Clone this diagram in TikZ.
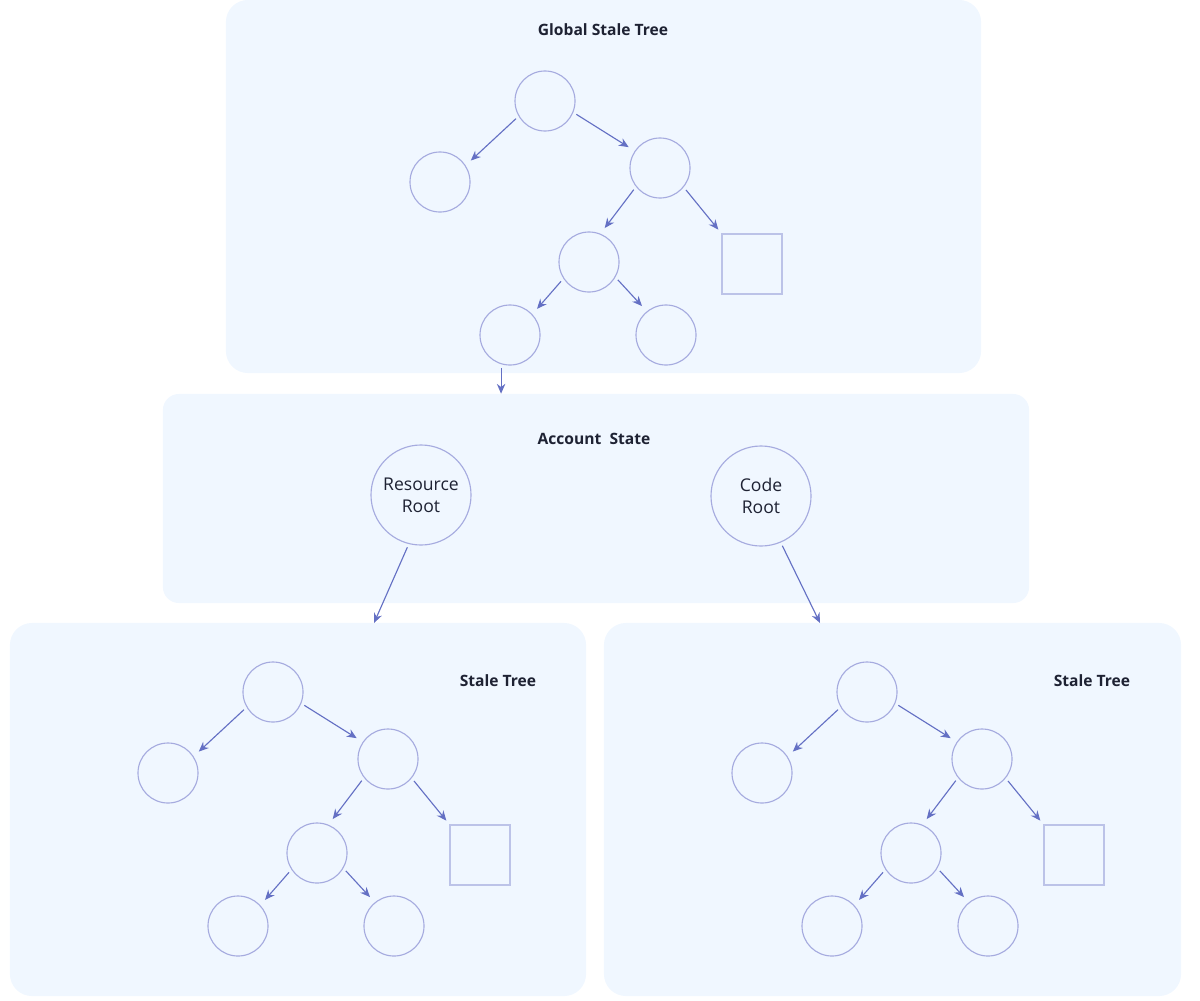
\documentclass[tikz,border=0pt]{standalone}
\usepackage{fontspec}
\setmainfont{Open Sans}
\usetikzlibrary{arrows.meta, positioning}
\definecolor{panelbg}{HTML}{F0F7FF}
\definecolor{nodeline}{HTML}{A6ABDF}
\definecolor{leafline}{HTML}{BCC3E8}
\definecolor{arrowcol}{HTML}{6470C4}
\definecolor{textcol}{HTML}{1E2233}

\begin{document}
\begin{tikzpicture}[
    x=0.025cm, y=-0.025cm,
    panel/.style={rectangle, rounded corners=0.55cm, fill=panelbg, draw=none, inner sep=0pt},
    title/.style={font=\bfseries\fontsize{11.1}{13}\selectfont, text=textcol},
    treenode/.style={circle, draw=nodeline, line width=0.8pt, minimum size=1.5cm, inner sep=0pt},
    rootnode/.style={circle, draw=nodeline, line width=0.8pt, minimum size=2.5cm, inner sep=0pt, align=center, font=\fontsize{12.5}{15.5}\selectfont, text=textcol},
    leaf/.style={rectangle, draw=leafline, line width=0.8pt, minimum size=1.5cm, inner sep=0pt},
    arrow/.style={line width=0.8pt, draw=arrowcol, -{Stealth[length=7pt, width=6pt]}, shorten <=2.5pt, shorten >=5pt}
]
    \useasboundingbox (0,0) rectangle (1200,1000);

    % Panels
    \node[panel, minimum width=18.875cm, minimum height=9.325cm] (global) at (603.5,186.5) {};
    \node[panel, rounded corners=0.4cm, minimum width=21.65cm, minimum height=5.225cm] (account) at (596,498.5) {};
    \node[panel, minimum width=14.4cm, minimum height=9.325cm] (respanel) at (298,809.5) {};
    \node[panel, minimum width=14.425cm, minimum height=9.325cm] (codepanel) at (892.5,809.5) {};

    % Titles
    \node[title] (globaltitle) at (603,30) {Global Stale Tree};
    \node[title] (accounttitle) at (594,439) {Account\ \ State};
    \node[title] (restitle) at (498,681) {Stale Tree};
    \node[title] (codetitle) at (1092,681) {Stale Tree};

    % Three trees of the same shape
    \foreach \x/\y/\t in {545/101/g, 273/692/r, 867/692/c}
    {
        \node[treenode] (\t-root) at (\x,\y) {};
        \node[treenode] (\t-l) at ({\x-105},{\y+81}) {};
        \node[treenode] (\t-r) at ({\x+115},{\y+67}) {};
        \node[treenode] (\t-rl) at ({\x+44},{\y+161}) {};
        \node[leaf] (\t-sq) at ({\x+207},{\y+163}) {};
        \node[treenode] (\t-rll) at ({\x-35},{\y+234}) {};
        \node[treenode] (\t-rlr) at ({\x+121},{\y+234}) {};

        \draw[arrow] (\t-root.210) -- (\t-l.33);
        \draw[arrow] (\t-root.338) -- (\t-r.146);
        \draw[arrow] (\t-r.218) -- (\t-rl.68);
        \draw[arrow, shorten >=3.5pt] (\t-r.321) -- (\t-sq.north west);
        \draw[arrow] (\t-rl.213) -- (\t-rll.43);
        \draw[arrow] (\t-rl.330) -- (\t-rlr.129);
    }

    % Account roots
    \node[rootnode] (resroot) at (421,495) {Resource\\Root};
    \node[rootnode] (coderoot) at (761,496) {Code\\Root};
    \coordinate (resin) at (374,623);
    \coordinate (codein) at (820,623);

    \draw[arrow, shorten >=0pt] (g-rll.253) -- (g-rll.253 |- account.north);
    \draw[arrow, shorten >=0pt] (resroot.256) -- (resin);
    \draw[arrow, shorten >=0pt] (coderoot.293) -- (codein);
\end{tikzpicture}
\end{document}
